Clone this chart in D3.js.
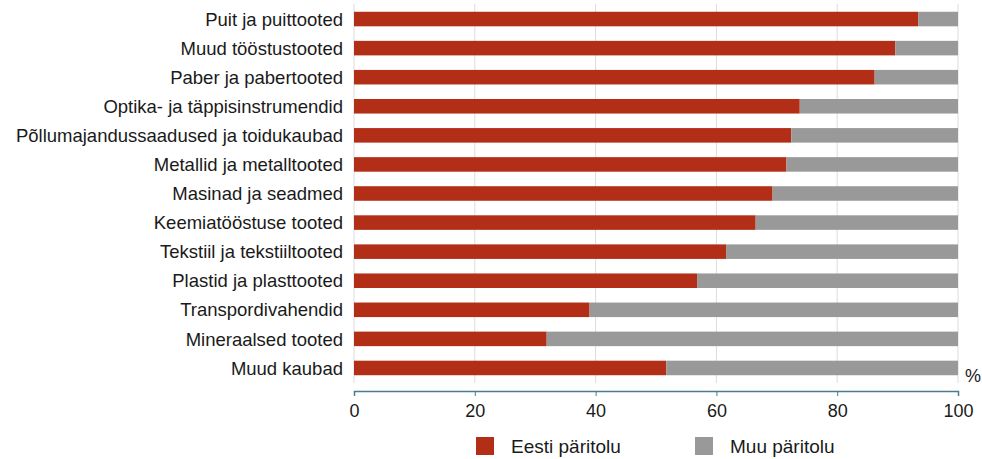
<!DOCTYPE html>
<html>
<head>
<meta charset="utf-8">
<script src="https://cdn.jsdelivr.net/npm/d3@7"></script>
<style>
  body { margin: 0; background: #fff; }
  text { font-family: "Liberation Sans", Arial, sans-serif; fill: #1a1a1a; }
</style>
</head>
<body>
<div id="chart"></div>
<script>
const categories = [
  "Puit ja puittooted",
  "Muud tööstustooted",
  "Paber ja pabertooted",
  "Optika- ja täppisinstrumendid",
  "Põllumajandussaadused ja toidukaubad",
  "Metallid ja metalltooted",
  "Masinad ja seadmed",
  "Keemiatööstuse tooted",
  "Tekstiil ja tekstiiltooted",
  "Plastid ja plasttooted",
  "Transpordivahendid",
  "Mineraalsed tooted",
  "Muud kaubad"
];
const eesti = [93.4, 89.6, 86.2, 73.8, 72.4, 71.6, 69.3, 66.5, 61.6, 56.8, 39.0, 31.9, 51.7];
const muu = eesti.map((v) => 100 - v);
const xTicks = [0, 20, 40, 60, 80, 100];
const seriesNames = ["Eesti päritolu", "Muu päritolu"];
const seriesColors = ["#b22e16", "#999999"];

const width = 982;
const height = 459;
const svg = d3.select("#chart").append("svg")
  .attr("width", width)
  .attr("height", height);

const x = d3.scaleLinear().domain([0, 100]).range([354, 958]);
const y = d3.scaleBand()
  .domain(categories)
  .range([4.5, 382.5])
  .paddingInner(0.5)
  .paddingOuter(0.25);

// gridlines
svg.selectAll("line.grid")
  .data(xTicks)
  .enter()
  .append("line")
  .attr("class", "grid")
  .attr("x1", (d) => x(d))
  .attr("x2", (d) => x(d))
  .attr("y1", 4)
  .attr("y2", 383)
  .attr("stroke", "#dcdcdc")
  .attr("stroke-width", 1);

const data = categories.map((c, i) => ({ name: c, a: eesti[i], b: muu[i] }));

svg.selectAll(".bar1")
  .data(data)
  .enter()
  .append("rect")
  .attr("x", x(0))
  .attr("y", (d) => y(d.name))
  .attr("width", (d) => x(d.a) - x(0))
  .attr("height", y.bandwidth())
  .attr("fill", seriesColors[0]);

svg.selectAll(".bar2")
  .data(data)
  .enter()
  .append("rect")
  .attr("x", (d) => x(d.a))
  .attr("y", (d) => y(d.name))
  .attr("width", (d) => x(d.a + d.b) - x(d.a))
  .attr("height", y.bandwidth())
  .attr("fill", seriesColors[1]);

// category labels
svg.selectAll("text.cat")
  .data(categories)
  .enter()
  .append("text")
  .attr("class", "cat")
  .attr("x", 343)
  .attr("y", (d) => y(d) + y.bandwidth() / 2)
  .attr("dy", "0.36em")
  .attr("text-anchor", "end")
  .attr("font-size", 18.5)
  .text((d) => d);

// x axis
const axis = svg.append("g")
  .attr("transform", "translate(0,391)")
  .call(d3.axisBottom(x).tickValues(xTicks).tickSize(5).tickPadding(8));
axis.select(".domain").attr("stroke", "#4b7b8f").attr("stroke-width", 1.5);
axis.selectAll(".tick line").attr("stroke", "#4b7b8f");
axis.selectAll(".tick text")
  .attr("font-size", 18)
  .attr("fill", "#1a1a1a")
  .style("font-family", "'Liberation Sans', Arial, sans-serif");

svg.append("text")
  .attr("x", 965)
  .attr("y", 382)
  .attr("font-size", 18)
  .text("%");

// legend
const legendX = [476, 695];
const legend = svg.selectAll("g.legend")
  .data(seriesNames)
  .enter()
  .append("g")
  .attr("class", "legend")
  .attr("transform", (d, i) => `translate(${legendX[i]},437)`);

legend.append("rect")
  .attr("width", 18)
  .attr("height", 18)
  .attr("fill", (d, i) => seriesColors[i]);

legend.append("text")
  .attr("x", 35)
  .attr("y", 9)
  .attr("dy", "0.36em")
  .attr("font-size", 19)
  .text((d) => d);
</script>
</body>
</html>
